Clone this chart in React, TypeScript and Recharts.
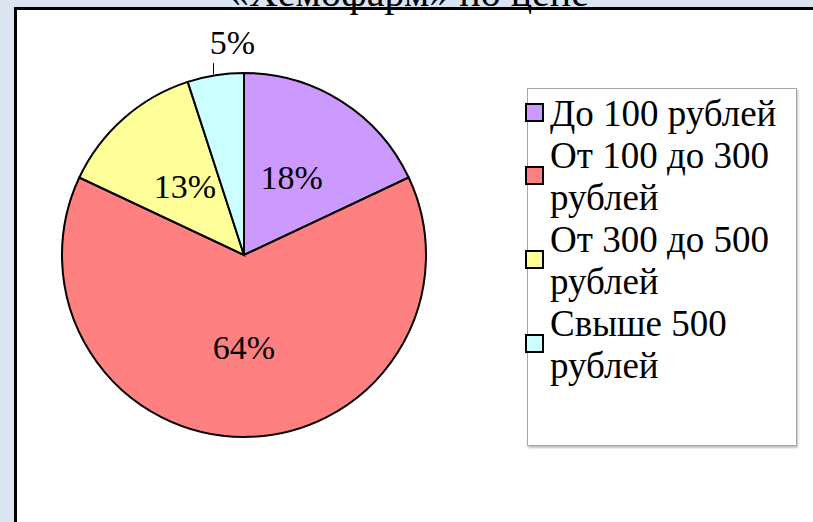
import React from 'react';
import { PieChart, Pie, Cell, Legend } from 'recharts';

const categories = ['До 100 рублей', 'От 100 до 300 рублей', 'От 300 до 500 рублей', 'Свыше 500 рублей'];
const shares = [18, 64, 13, 5];
const colors = ['#cc99ff', '#ff8080', '#ffff99', '#ccffff'];
const title = '«Хемофарм» по цене';

const data = categories.map((name, i) => ({ name, value: shares[i] }));

const FONT = '"Liberation Serif", "Times New Roman", serif';
const RAD = Math.PI / 180;

const renderLabel = (props: any) => {
  const { cx, cy, midAngle, outerRadius, index, value } = props;
  if (index === 3) {
    // small slice: label outside with a short leader line
    const ex = cx + outerRadius * Math.cos(-midAngle * RAD);
    const ey = cy + outerRadius * Math.sin(-midAngle * RAD);
    return (
      <g>
        <line x1={ex - 2} y1={ey - 1} x2={ex - 2} y2={ey - 12} stroke="#000" strokeWidth={1} />
        <text x={ex + 17} y={ey - 33} textAnchor="middle" dominantBaseline="central"
          fontFamily={FONT} fontSize={34} fill="#000">{value + '%'}</text>
      </g>
    );
  }
  const r = outerRadius * (index === 1 ? 0.52 : 0.49);
  const x = cx + r * Math.cos(-midAngle * RAD);
  const y = cy + r * Math.sin(-midAngle * RAD);
  return (
    <text x={x} y={y - 2} textAnchor="middle" dominantBaseline="central"
      fontFamily={FONT} fontSize={34} fill="#000">{value + '%'}</text>
  );
};

const renderLegend = () => (
  <div style={{
    width: 270, height: 358, border: '1px solid #a6a6a6', background: '#fff',
    boxShadow: '1px 2px 2px rgba(0,0,0,0.25)', paddingTop: 4, boxSizing: 'border-box',
  }}>
    {categories.map((name, i) => (
      <div key={name} style={{ display: 'flex', alignItems: 'center' }}>
        <div style={{
          width: 15, height: 15, border: '2px solid #000', background: colors[i],
          marginLeft: -3, marginRight: 6, flexShrink: 0, marginTop: -4,
        }} />
        <div style={{
          width: 240, fontFamily: FONT, fontSize: 37, lineHeight: '42px', color: '#000',
          textAlign: 'left',
        }}>{name}</div>
      </div>
    ))}
  </div>
);

export default function App() {
  return (
    <div style={{ position: 'absolute', left: 0, top: 0, width: 813, height: 522, overflow: 'hidden', background: '#dbe5f1' }}>
      <div style={{
        position: 'absolute', left: 14, top: 7, width: 820, height: 540,
        background: '#fff', borderTop: '3px solid #000', borderLeft: '3px solid #000', boxSizing: 'border-box',
      }} />
      <div style={{ position: 'absolute', left: 0, top: 0 }}>
        <PieChart width={813} height={522} margin={{ top: 0, right: 0, bottom: 0, left: 0 }}>
          <Pie
            data={data}
            dataKey="value"
            nameKey="name"
            cx={244}
            cy={255}
            outerRadius={182}
            startAngle={90}
            endAngle={-270}
            stroke="#000"
            strokeWidth={2}
            label={renderLabel}
            labelLine={false}
            isAnimationActive={false}
          >
            {data.map((d, i) => (
              <Cell key={d.name} fill={colors[i]} />
            ))}
          </Pie>
          <Legend
            layout="vertical"
            verticalAlign="top"
            align="right"
            content={renderLegend}
            wrapperStyle={{ left: 527, top: 88, width: 270, right: 'auto' }}
          />
        </PieChart>
      </div>
      <div style={{
        position: 'absolute', left: 0, width: 818, top: -30, textAlign: 'center',
        fontFamily: FONT, fontSize: 40, lineHeight: '46px', color: '#000', whiteSpace: 'nowrap',
      }}>{title}</div>
    </div>
  );
}
